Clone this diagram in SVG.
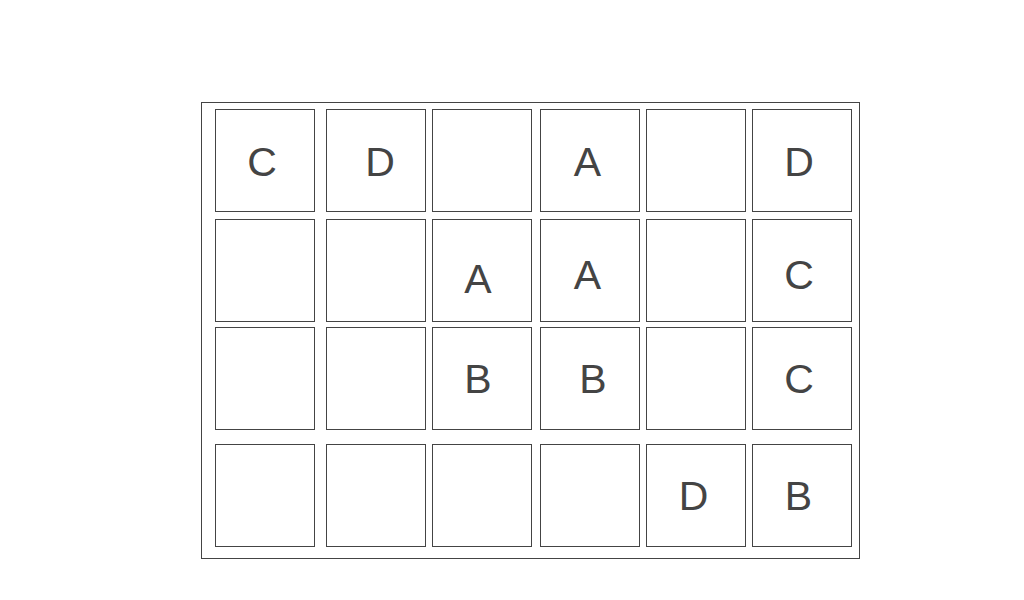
<svg xmlns="http://www.w3.org/2000/svg" width="1024" height="600" viewBox="0 0 1024 600">
<style>
.frame{fill:#fff;stroke:#444;stroke-width:1}
.cell{fill:#fff;stroke:#444;stroke-width:1}
.lbl{font-family:"Liberation Sans",Arial,sans-serif;font-size:41px;fill:#444;text-anchor:middle}
</style>
<rect width="1024" height="600" fill="#fff"/>
<g id="frame"><rect class="frame" x="201.5" y="102.5" width="658" height="456"/></g>
<g id="cells">
<g id="r1c1"><rect class="cell" x="215.5" y="109.5" width="99" height="102"/><text class="lbl" x="262" y="175.5">C</text></g>
<g id="r1c2"><rect class="cell" x="326.5" y="109.5" width="99" height="102"/><text class="lbl" x="380" y="175.5">D</text></g>
<g id="r1c3"><rect class="cell" x="432.5" y="109.5" width="99" height="102"/></g>
<g id="r1c4"><rect class="cell" x="540.5" y="109.5" width="99" height="102"/><text class="lbl" x="587.5" y="175.5">A</text></g>
<g id="r1c5"><rect class="cell" x="646.5" y="109.5" width="99" height="102"/></g>
<g id="r1c6"><rect class="cell" x="752.5" y="109.5" width="99" height="102"/><text class="lbl" x="799" y="175.5">D</text></g>

<g id="r2c1"><rect class="cell" x="215.5" y="219.5" width="99" height="102"/></g>
<g id="r2c2"><rect class="cell" x="326.5" y="219.5" width="99" height="102"/></g>
<g id="r2c3"><rect class="cell" x="432.5" y="219.5" width="99" height="102"/><text class="lbl" x="478" y="293">A</text></g>
<g id="r2c4"><rect class="cell" x="540.5" y="219.5" width="99" height="102"/><text class="lbl" x="587.5" y="289">A</text></g>
<g id="r2c5"><rect class="cell" x="646.5" y="219.5" width="99" height="102"/></g>
<g id="r2c6"><rect class="cell" x="752.5" y="219.5" width="99" height="102"/><text class="lbl" x="799" y="289">C</text></g>

<g id="r3c1"><rect class="cell" x="215.5" y="327.5" width="99" height="102"/></g>
<g id="r3c2"><rect class="cell" x="326.5" y="327.5" width="99" height="102"/></g>
<g id="r3c3"><rect class="cell" x="432.5" y="327.5" width="99" height="102"/><text class="lbl" x="478" y="392.5">B</text></g>
<g id="r3c4"><rect class="cell" x="540.5" y="327.5" width="99" height="102"/><text class="lbl" x="593" y="392.5">B</text></g>
<g id="r3c5"><rect class="cell" x="646.5" y="327.5" width="99" height="102"/></g>
<g id="r3c6"><rect class="cell" x="752.5" y="327.5" width="99" height="102"/><text class="lbl" x="799" y="392.5">C</text></g>

<g id="r4c1"><rect class="cell" x="215.5" y="444.5" width="99" height="102"/></g>
<g id="r4c2"><rect class="cell" x="326.5" y="444.5" width="99" height="102"/></g>
<g id="r4c3"><rect class="cell" x="432.5" y="444.5" width="99" height="102"/></g>
<g id="r4c4"><rect class="cell" x="540.5" y="444.5" width="99" height="102"/></g>
<g id="r4c5"><rect class="cell" x="646.5" y="444.5" width="99" height="102"/><text class="lbl" x="693.5" y="510">D</text></g>
<g id="r4c6"><rect class="cell" x="752.5" y="444.5" width="99" height="102"/><text class="lbl" x="798.5" y="510">B</text></g>
</g>
<g id="connectors"/>
</svg>
